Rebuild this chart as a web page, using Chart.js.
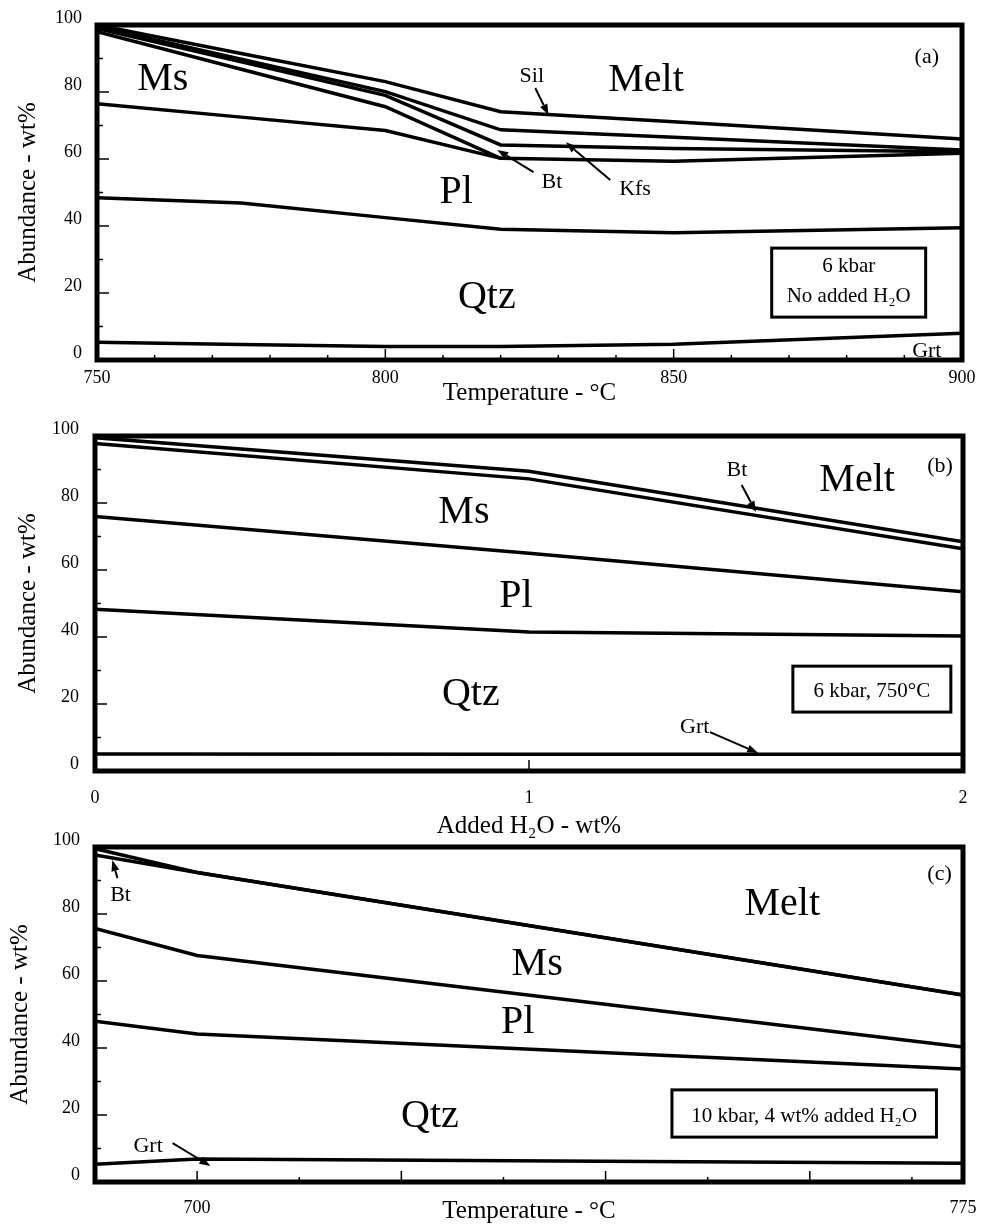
<!DOCTYPE html>
<html>
<head>
<meta charset="utf-8">
<title>Abundance vs temperature / added H2O</title>
<script src="https://cdn.jsdelivr.net/npm/chart.js@4.4.1/dist/chart.umd.min.js"></script>
<style>
  body { margin: 0; background: #fff; }
  #wrap { position: relative; width: 983px; height: 1226px; }
  canvas { position: absolute; left: 0; }
</style>
</head>
<body>
<div id="wrap">
  <canvas id="chartA" width="983" height="410" style="top:0px"></canvas>
  <canvas id="chartB" width="983" height="433" style="top:410px"></canvas>
  <canvas id="chartC" width="983" height="406" style="top:820px"></canvas>
</div>
<script>
// (a) 6 kbar, no added H2O -- boundaries between stacked phases, wt%
const tempA = [750, 775, 800, 820, 850, 900];
const grtA = [5.3, 4.6, 4.0, 4.0, 4.7, 8.0];
const qtzA = [48.4, 46.9, 42.5, 39.0, 38.0, 39.5];
const plA = [76.5, 72.5, 68.5, 60.2, 59.3, 61.7];
const msA = [98.0, 86.8, 75.6, 60.2, null, null];
const btA = [99.0, 89.0, 79.0, 64.2, 63.1, 62.2];
const kfsA = [99.5, 89.8, 80.1, 68.7, 66.5, 62.7];
const silA = [100, 91.5, 83.1, 74.1, 71.1, 66.0];

// (b) 6 kbar, 750 C
const waterB = [0, 1, 2];
const grtB = [5.1, 5.0, 5.0];
const qtzB = [48.3, 41.5, 40.3];
const plB = [76.0, 65.0, 53.5];
const msB = [97.8, 87.2, 66.3];
const btB = [99.5, 89.5, 68.4];

// (c) 10 kbar, 4 wt% added H2O
const tempC = [690, 700, 775];
const grtC = [5.3, 6.9, 5.6];
const qtzC = [48.0, 44.2, 33.7];
const plC = [75.7, 67.6, 40.3];
const msC = [97.6, 92.4, 55.8];
const btC = [99.5, 92.4, 55.8];

const abundanceTicks = [0, 20, 40, 60, 80, 100];
const serif = "'Liberation Serif', 'Times New Roman', serif";
Chart.defaults.font.family = serif;
Chart.defaults.color = "#000";

function drawArrow(ctx, x1, y1, x2, y2) {
  const ang = Math.atan2(y2 - y1, x2 - x1);
  const len = 11, half = 4;
  const bx = x2 - len * Math.cos(ang), by = y2 - len * Math.sin(ang);
  ctx.lineWidth = 2;
  ctx.beginPath();
  ctx.moveTo(x1, y1);
  ctx.lineTo(bx, by);
  ctx.stroke();
  ctx.beginPath();
  ctx.moveTo(x2, y2);
  ctx.lineTo(bx + half * Math.sin(ang), by - half * Math.cos(ang));
  ctx.lineTo(bx - half * Math.sin(ang), by + half * Math.cos(ang));
  ctx.closePath();
  ctx.fill();
}

function decorPlugin(p) {
  return {
    id: "decor",
    afterDatasetsDraw(chart) {
      const { ctx, chartArea: a, scales: { x, y } } = chart;
      ctx.save();
      ctx.strokeStyle = "#000";
      ctx.fillStyle = "#000";

      // inward tick marks
      ctx.lineWidth = 1.5;
      p.xMarks.forEach(([v, long]) => {
        const px = x.getPixelForValue(v);
        ctx.beginPath();
        ctx.moveTo(px, a.bottom);
        ctx.lineTo(px, a.bottom - (long ? 11 : 5));
        ctx.stroke();
      });
      for (let v = 10; v < 100; v += 10) {
        const py = y.getPixelForValue(v);
        ctx.beginPath();
        ctx.moveTo(a.left, py);
        ctx.lineTo(a.left + (v % 20 === 0 ? 12 : 6), py);
        ctx.stroke();
      }

      // frame
      ctx.lineWidth = 5;
      ctx.strokeRect(a.left, a.top, a.right - a.left, a.bottom - a.top);

      // field labels
      ctx.textAlign = "center";
      ctx.textBaseline = "alphabetic";
      p.labels.forEach(([text, vx, vy, size]) => {
        ctx.font = size + "px " + serif;
        ctx.fillText(text, x.getPixelForValue(vx), y.getPixelForValue(vy));
      });

      // arrows
      p.arrows.forEach(([x1, y1, x2, y2]) => {
        drawArrow(ctx, x.getPixelForValue(x1), y.getPixelForValue(y1),
                  x.getPixelForValue(x2), y.getPixelForValue(y2));
      });

      // condition box
      const b = p.box;
      const bl = x.getPixelForValue(b.x0), br = x.getPixelForValue(b.x1);
      const bt = y.getPixelForValue(b.y0), bb = y.getPixelForValue(b.y1);
      ctx.lineWidth = 3;
      ctx.strokeRect(bl, bt, br - bl, bb - bt);
      ctx.font = "21px " + serif;
      b.lines.forEach(([text, vy]) => {
        ctx.fillText(text, (bl + br) / 2, y.getPixelForValue(vy));
      });
      ctx.restore();
    },
  };
}

function makePanel(id, p) {
  new Chart(document.getElementById(id), {
    type: "line",
    data: {
      datasets: p.series.map((vals) => ({
        data: p.xs.map((v, i) => ({ x: v, y: vals[i] })),
        borderColor: "#000",
        borderWidth: 3.5,
        pointRadius: 0,
        fill: false,
        tension: 0,
      })),
    },
    options: {
      responsive: false,
      animation: false,
      devicePixelRatio: 1,
      layout: { padding: { top: p.padTop, right: p.padRight, left: 0, bottom: 0 } },
      plugins: { legend: { display: false }, tooltip: { enabled: false } },
      scales: {
        x: {
          type: "linear",
          min: p.xMin,
          max: p.xMax,
          grid: { display: false, drawTicks: false },
          border: { display: false },
          ticks: {
            stepSize: p.xStep,
            autoSkip: false,
            maxRotation: 0,
            padding: p.xTickPad,
            font: { size: 18 },
          },
          afterBuildTicks: (s) => {
            s.ticks = p.xTicks.map((v) => ({ value: v }));
          },
          afterFit: (s) => {
            s.height = p.xAxisH;
            s.paddingLeft = 0;
            s.paddingRight = 0;
          },
          title: {
            display: true,
            text: p.xTitle,
            font: { size: 25 },
            padding: { top: 0, bottom: p.xTitlePad },
          },
        },
        y: {
          min: 0,
          max: 100,
          grid: { display: false, drawTicks: false },
          border: { display: false },
          ticks: {
            stepSize: 20,
            padding: p.yTickPad,
            labelOffset: -7,
            font: { size: 18 },
          },
          afterBuildTicks: (s) => {
            s.ticks = abundanceTicks.map((v) => ({ value: v }));
          },
          afterFit: (s) => {
            s.width = p.yAxisW;
            s.paddingTop = 0;
            s.paddingBottom = 0;
          },
          title: {
            display: true,
            text: "Abundance - wt%",
            font: { size: 25 },
            padding: { top: p.yTitlePad, bottom: 0 },
          },
        },
      },
    },
    plugins: [decorPlugin(p)],
  });
}

const marksA = [];
for (let v = 760; v < 900; v += 10) marksA.push([v, v % 50 === 0]);
const marksC = [];
for (let v = 700; v < 775; v += 10) marksC.push([v, (v - 700) % 20 === 0]);

makePanel("chartA", {
  xs: tempA,
  series: [grtA, qtzA, plA, msA, btA, kfsA, silA],
  xMin: 750, xMax: 900, xStep: 50, xTicks: [750, 800, 850, 900],
  xMarks: marksA,
  xTitle: "Temperature - °C",
  padTop: 25, padRight: 21, xAxisH: 50, yAxisW: 97,
  xTickPad: 7, yTickPad: 15, xTitlePad: 2, yTitlePad: 13,
  labels: [
    ["Ms", 761.4, 80.6, 40], ["Melt", 845.2, 80.3, 40],
    ["Pl", 812.3, 46.9, 40], ["Qtz", 817.6, 15.5, 40],
    ["Sil", 825.4, 83.0, 22], ["Bt", 828.9, 51.3, 22],
    ["Kfs", 843.3, 49.3, 22], ["Grt", 893.9, 0.9, 22],
    ["(a)", 893.9, 88.7, 22],
  ],
  arrows: [
    [826.0, 81.2, 828.3, 73.1],
    [825.7, 56.1, 819.4, 62.7],
    [839.0, 53.7, 831.3, 65.0],
  ],
  box: { x0: 867.0, x1: 893.7, y0: 33.4, y1: 12.8,
         lines: [["6 kbar", 26.3], ["No added H₂O", 17.3]] },
});

makePanel("chartB", {
  xs: waterB,
  series: [grtB, qtzB, plB, msB, btB],
  xMin: 0, xMax: 2, xStep: 1, xTicks: [0, 1, 2],
  xMarks: [[1, true]],
  xTitle: "Added H₂O - wt%",
  padTop: 26, padRight: 20, xAxisH: 72, yAxisW: 95,
  xTickPad: 16, yTickPad: 16, xTitlePad: 2, yTitlePad: 13,
  labels: [
    ["Ms", 0.850, 74.0, 40], ["Pl", 0.970, 49.0, 40],
    ["Qtz", 0.866, 19.7, 40], ["Melt", 1.756, 83.6, 40],
    ["Bt", 1.479, 88.1, 22], ["Grt", 1.382, 11.3, 22],
    ["(b)", 1.947, 89.3, 22],
  ],
  arrows: [
    [1.490, 85.4, 1.523, 77.3],
    [1.417, 11.6, 1.528, 5.4],
  ],
  box: { x0: 1.608, x1: 1.972, y0: 31.3, y1: 17.6,
         lines: [["6 kbar, 750°C", 22.1]] },
});

makePanel("chartC", {
  xs: tempC,
  series: [grtC, qtzC, plC, msC, btC],
  xMin: 690, xMax: 775, xStep: 10, xTicks: [700, 775],
  xMarks: marksC,
  xTitle: "Temperature - °C",
  padTop: 27, padRight: 20, xAxisH: 44, yAxisW: 95,
  xTickPad: 15, yTickPad: 15, xTitlePad: 0, yTitlePad: 5,
  labels: [
    ["Melt", 757.3, 79.7, 40], ["Ms", 733.3, 61.8, 40],
    ["Pl", 731.4, 44.5, 40], ["Qtz", 722.8, 16.4, 40],
    ["Bt", 692.5, 83.9, 22], ["Grt", 695.2, 9.0, 22],
    ["(c)", 772.7, 90.1, 22],
  ],
  arrows: [
    [692.2, 90.7, 691.7, 96.1],
    [697.6, 11.6, 701.3, 4.8],
  ],
  box: { x0: 746.5, x1: 772.4, y0: 27.5, y1: 13.4,
         lines: [["10 kbar, 4 wt% added H₂O", 17.9]] },
});
</script>
</body>
</html>
